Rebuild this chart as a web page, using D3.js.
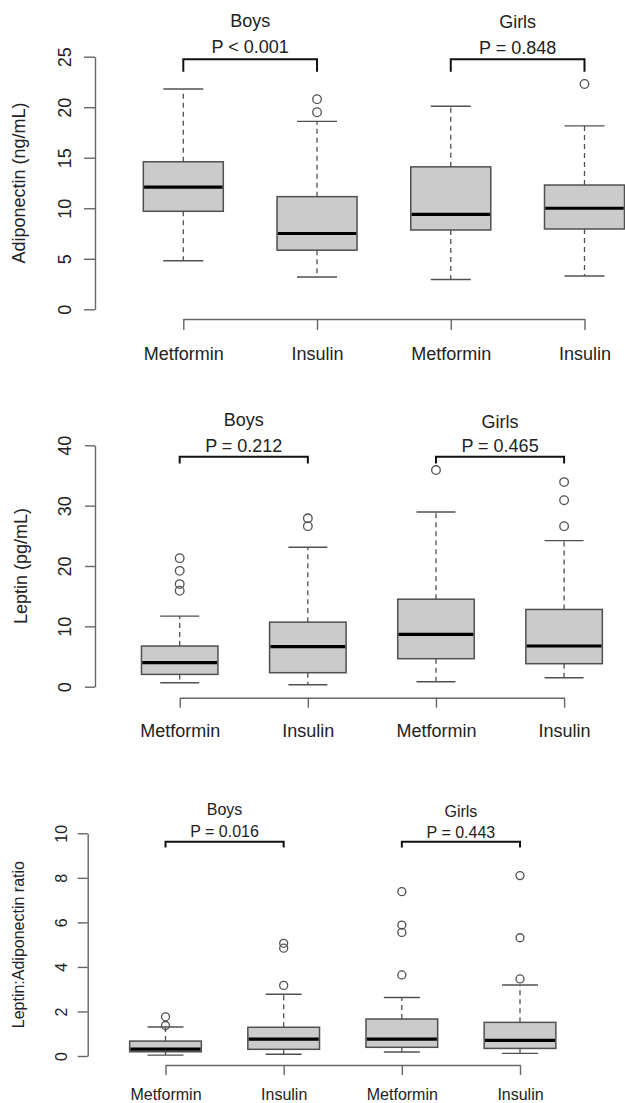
<!DOCTYPE html>
<html><head><meta charset="utf-8">
<script src="https://cdn.jsdelivr.net/npm/d3@7"></script>
<style>
body{margin:0;background:#fff}
svg{display:block;font-family:"Liberation Sans",Arial,Helvetica,sans-serif}
</style>
</head><body><svg id="c" width="625" height="1103"></svg>
<script>
// ---------- data ----------
const categories = ["Metformin", "Insulin", "Metformin", "Insulin"];
const sexGroups = ["Boys", "Girls"];
// five-number summaries: [lower whisker, Q1, median, Q3, upper whisker]
const adiponectinBox = [[4.8, 9.7, 12.1, 14.6, 21.8], [3.2, 5.85, 7.5, 11.15, 18.6], [2.95, 7.85, 9.4, 14.1, 20.1], [3.3, 7.95, 10.0, 12.3, 18.15]];
const adiponectinOut = [[], [19.5, 20.8], [], [22.3]];
const adiponectinP = ["P < 0.001", "P = 0.848"];
const adiponectinTicks = [0, 5, 10, 15, 20, 25];

const leptinBox = [[0.66, 2.04, 3.98, 6.74, 11.7], [0.33, 2.32, 6.63, 10.7, 23.1], [0.83, 4.64, 8.67, 14.5, 28.95], [1.49, 3.81, 6.74, 12.8, 24.2]];
const leptinOut = [[15.9, 17.0, 19.2, 21.3], [26.6, 27.9], [35.9], [26.6, 30.9, 33.9]];
const leptinP = ["P = 0.212", "P = 0.465"];
const leptinTicks = [0, 10, 20, 30, 40];

const ratioBox = [[0.04, 0.19, 0.31, 0.67, 1.3], [0.08, 0.3, 0.76, 1.29, 2.77], [0.18, 0.39, 0.76, 1.66, 2.63], [0.12, 0.34, 0.70, 1.51, 3.19]];
const ratioOut = [[1.37, 1.76], [3.17, 4.84, 5.06], [3.64, 5.55, 5.88, 7.38], [3.46, 5.31, 8.1]];
const ratioP = ["P = 0.016", "P = 0.443"];
const ratioTicks = [0, 2, 4, 6, 8, 10];

// ---------- layout ----------
const panels = [
  {title: "Adiponectin (ng/mL)", box: adiponectinBox, out: adiponectinOut, p: adiponectinP, ticks: adiponectinTicks,
   axisX: 95, yRange: [309.3, 56.7], xFirst: 183.3, xLast: 584.5, boxW: 80, capW: 40, fs: 18,
   xAxisY: 319, tickLen: 11, catY: 360, groupY: 26.7, pY: 53.3, brTop: 59.3, brDrop: 12.4,
   tickLabX: 70.5, titleX: 25, r: 4.3},
  {title: "Leptin (pg/mL)", box: leptinBox, out: leptinOut, p: leptinP, ticks: leptinTicks,
   axisX: 95, yRange: [686.7, 445.3], xFirst: 179.7, xLast: 564.1, boxW: 76.5, capW: 39, fs: 18,
   xAxisY: 697.7, tickLen: 10, catY: 737, groupY: 426, pY: 451.7, brTop: 456.7, brDrop: 6.8,
   tickLabX: 70.5, titleX: 27, r: 4.3},
  {title: "Leptin:Adiponectin ratio", box: ratioBox, out: ratioOut, p: ratioP, ticks: ratioTicks,
   axisX: 87.7, yRange: [1056, 833.3], xFirst: 165.5, xLast: 520, boxW: 71.7, capW: 36, fs: 16,
   xAxisY: 1065, tickLen: 10, catY: 1100, groupY: 815, pY: 837.3, brTop: 841.7, brDrop: 5.8,
   tickLabX: 66.5, titleX: 24, r: 4}
];

const svg = d3.select("#c");
const axisCol = "#666", boxCol = "#505050", textCol = "#222";

panels.forEach(P => {
  const g = svg.append("g");
  const y = d3.scaleLinear().domain([P.ticks[0], P.ticks[P.ticks.length - 1]]).range(P.yRange);
  const x = d3.scalePoint().domain(d3.range(categories.length)).range([P.xFirst, P.xLast]);

  // y axis
  const ya = g.append("g").attr("transform", `translate(${P.axisX},0)`)
    .call(d3.axisLeft(y).tickValues(P.ticks).tickSize(P.tickLen).tickSizeOuter(0).tickFormat(d3.format("d")));
  ya.select(".domain").attr("stroke", axisCol).attr("stroke-width", 1.4);
  ya.selectAll(".tick line").attr("stroke", axisCol).attr("stroke-width", 1.4);
  ya.selectAll(".tick text").attr("x", null).attr("dy", null).attr("text-anchor", "middle")
    .attr("transform", `translate(${P.tickLabX - P.axisX},0) rotate(-90)`)
    .attr("font-size", P.fs).attr("fill", textCol).attr("font-family", null);

  // y title
  const yMid = (P.yRange[0] + P.yRange[1]) / 2;
  g.append("text").attr("transform", `translate(${P.titleX},${yMid}) rotate(-90)`)
    .attr("text-anchor", "middle").attr("font-size", P.fs).attr("fill", textCol).text(P.title);

  // x axis
  const xa = g.append("g").attr("transform", `translate(0,${P.xAxisY})`)
    .call(d3.axisBottom(x).tickSize(P.tickLen).tickSizeOuter(0).tickFormat(i => categories[i]));
  xa.select(".domain").attr("stroke", axisCol).attr("stroke-width", 1.4);
  xa.selectAll(".tick line").attr("stroke", axisCol).attr("stroke-width", 1.4);
  xa.selectAll(".tick text").attr("y", P.catY - P.xAxisY).attr("dy", null)
    .attr("font-size", P.fs).attr("fill", textCol).attr("font-family", null);

  // boxes
  P.box.forEach((s, i) => {
    const cx = x(i);
    const bg = g.append("g");
    // whiskers (dashed)
    bg.append("line").attr("x1", cx).attr("x2", cx).attr("y1", y(s[3])).attr("y2", y(s[4]))
      .attr("stroke", boxCol).attr("stroke-width", 1.3).attr("stroke-dasharray", "5,4");
    bg.append("line").attr("x1", cx).attr("x2", cx).attr("y1", y(s[1])).attr("y2", y(s[0]))
      .attr("stroke", boxCol).attr("stroke-width", 1.3).attr("stroke-dasharray", "5,4");
    // caps
    [s[0], s[4]].forEach(v => bg.append("line").attr("x1", cx - P.capW / 2).attr("x2", cx + P.capW / 2)
      .attr("y1", y(v)).attr("y2", y(v)).attr("stroke", boxCol).attr("stroke-width", 1.4));
    // box
    bg.append("rect").attr("x", cx - P.boxW / 2).attr("width", P.boxW)
      .attr("y", y(s[3])).attr("height", y(s[1]) - y(s[3]))
      .attr("fill", "#cbcbcb").attr("stroke", boxCol).attr("stroke-width", 1.5);
    // median
    bg.append("line").attr("x1", cx - P.boxW / 2 + 0.8).attr("x2", cx + P.boxW / 2 - 0.8)
      .attr("y1", y(s[2])).attr("y2", y(s[2])).attr("stroke", "#000").attr("stroke-width", 3.2);
    // outliers
    P.out[i].forEach(v => bg.append("circle").attr("cx", cx).attr("cy", y(v)).attr("r", P.r)
      .attr("fill", "none").attr("stroke", boxCol).attr("stroke-width", 1.3));
  });

  // group brackets and labels
  sexGroups.forEach((grp, k) => {
    const xl = x(2 * k), xr = x(2 * k + 1), xm = (xl + xr) / 2;
    const off = k === 1 ? 1.5 : 0;
    g.append("path")
      .attr("d", `M${xl},${P.brTop + P.brDrop}V${P.brTop}H${xr}V${P.brTop + P.brDrop}`)
      .attr("fill", "none").attr("stroke", "#111").attr("stroke-width", 2);
    g.append("text").attr("x", xm).attr("y", P.groupY + off).attr("text-anchor", "middle")
      .attr("font-size", P.fs).attr("fill", textCol).text(grp);
    g.append("text").attr("x", xm).attr("y", P.pY + off * 0.5).attr("text-anchor", "middle")
      .attr("font-size", P.fs).attr("fill", textCol).text(P.p[k]);
  });
});
</script>
</body></html>
